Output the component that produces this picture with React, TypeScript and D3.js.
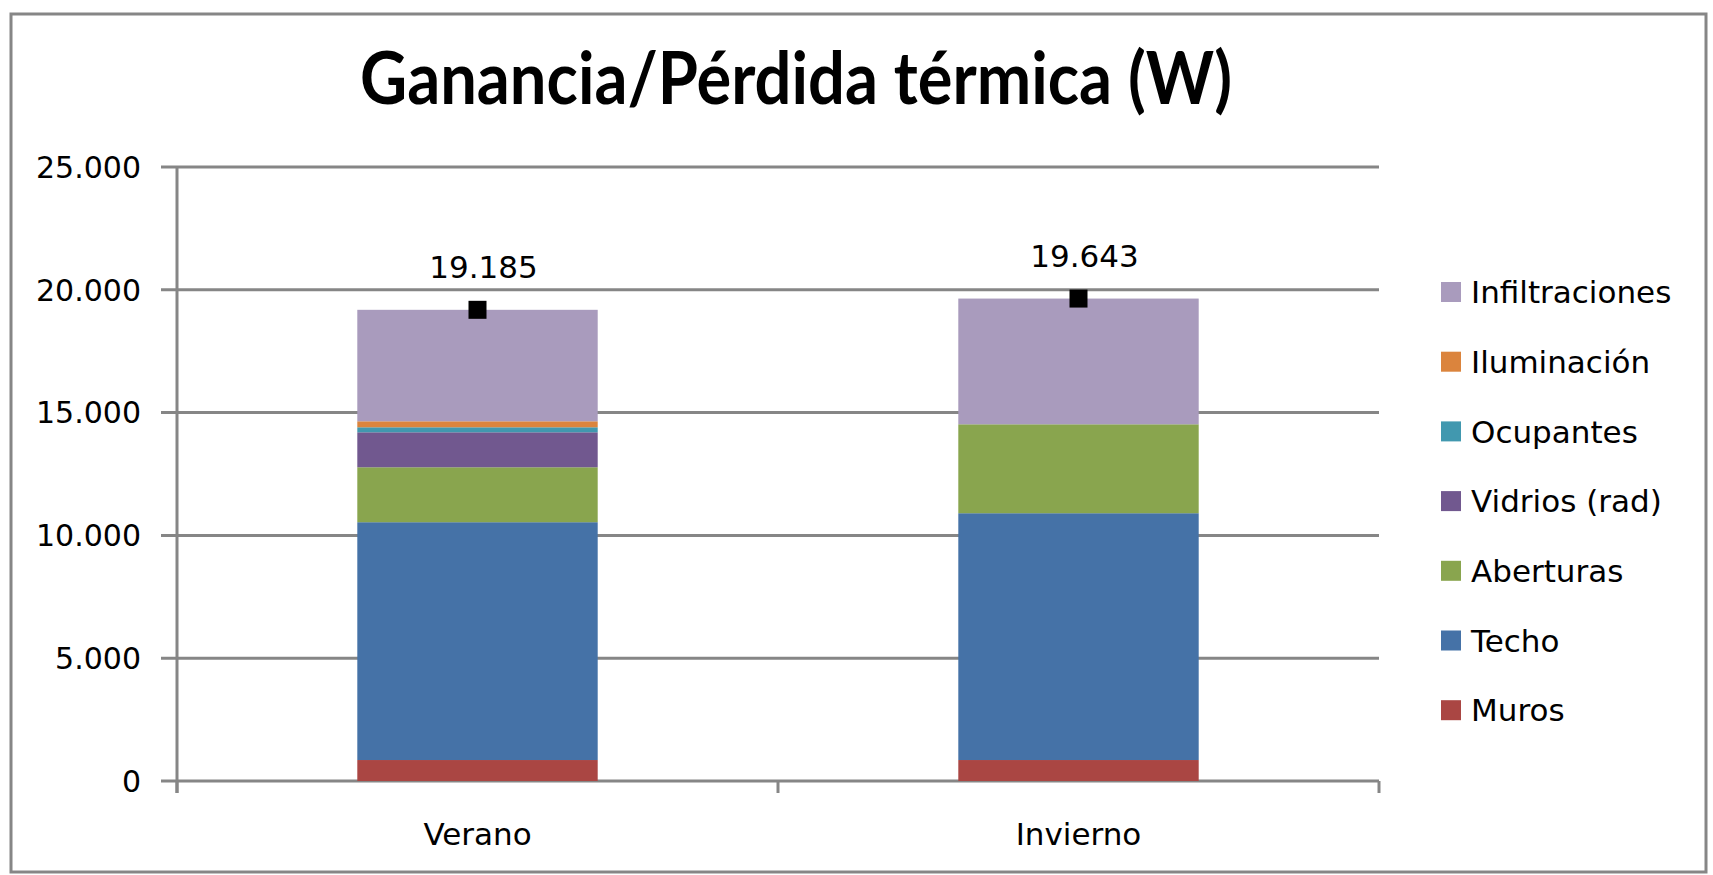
import React from "react";
import * as d3 from "d3";

// Chart data (W)
const categories = ["Verano", "Invierno"];
const muros = [854, 854];
const techo = [9683, 10049];
const aberturas = [2237, 3621];
const vidrios = [1424, 0];
const ocupantes = [204, 0];
const iluminacion = [244, 0];
const infiltraciones = [4539, 5119];

const seriesNames = [
  "Muros",
  "Techo",
  "Aberturas",
  "Vidrios (rad)",
  "Ocupantes",
  "Iluminación",
  "Infiltraciones",
];
const seriesColors = [
  "#AA4643",
  "#4572A7",
  "#89A54E",
  "#71588F",
  "#4198AF",
  "#DB843D",
  "#A99BBD",
];
const yTicks = [0, 5000, 10000, 15000, 20000, 25000];

const locale = d3.formatLocale({
  decimal: ",",
  thousands: ".",
  grouping: [3],
  currency: ["", "€"],
});
const fmt = locale.format(",.0f");

const App: React.FC = () => {
  const width = 1713;
  const height = 875;
  const plot = { left: 177, right: 1379, top: 167, bottom: 781 };

  const allSeries = [muros, techo, aberturas, vidrios, ocupantes, iluminacion, infiltraciones];
  const rows = categories.map((c, i) => {
    const row: Record<string, number | string> = { cat: c };
    seriesNames.forEach((s, k) => (row[s] = allSeries[k][i]));
    return row;
  });
  const stacked = d3.stack<any>().keys(seriesNames)(rows);
  const totals = categories.map((_, i) => d3.sum(allSeries, (s) => s[i]));

  const x = d3
    .scaleBand()
    .domain(categories)
    .range([plot.left, plot.right])
    .paddingInner(0.6)
    .paddingOuter(0.3);
  const y = d3.scaleLinear().domain([0, 25000]).range([plot.bottom, plot.top]);
  const step = (plot.right - plot.left) / categories.length;

  const font = "'DejaVu Sans', Verdana, sans-serif";
  const grid = "#868686";

  return (
    <svg
      width={width}
      height={height}
      style={{ position: "absolute", left: 0, top: 0, background: "#fff" }}
    >
      <rect x={11} y={14} width={1695} height={858} fill="#fff" stroke={grid} strokeWidth={3} />

      <text
        x={796}
        y={104}
        textAnchor="middle"
        fontFamily="Lato, 'DejaVu Sans', sans-serif"
        fontWeight="bold"
        fontSize={72}
        textLength={872}
        lengthAdjust="spacingAndGlyphs"
        fill="#000"
      >
        Ganancia/Pérdida térmica (W)
      </text>

      {/* gridlines + y ticks */}
      {yTicks.map((t) => (
        <g key={t}>
          <line x1={plot.left - 16} x2={plot.right} y1={y(t)} y2={y(t)} stroke={grid} strokeWidth={3} />
          <text
            x={141}
            y={y(t)}
            dy="0.36em"
            textAnchor="end"
            fontFamily={font}
            fontSize={30}
            fill="#000"
          >
            {fmt(t)}
          </text>
        </g>
      ))}

      {/* bars */}
      {stacked.map((layer, k) => (
        <g key={layer.key} fill={seriesColors[k]}>
          {layer.map((d, i) => (
            <rect
              key={i}
              x={x(categories[i])}
              y={y(d[1])}
              width={x.bandwidth()}
              height={Math.max(0, y(d[0]) - y(d[1]))}
            />
          ))}
        </g>
      ))}

      {/* axes */}
      <line x1={plot.left} x2={plot.left} y1={plot.top} y2={plot.bottom + 12} stroke={grid} strokeWidth={3} />
      {d3.range(categories.length + 1).map((i) => (
        <line
          key={i}
          x1={plot.left + i * step}
          x2={plot.left + i * step}
          y1={plot.bottom}
          y2={plot.bottom + 12}
          stroke={grid}
          strokeWidth={3}
        />
      ))}
      {categories.map((c) => (
        <text
          key={c}
          x={(x(c) as number) + x.bandwidth() / 2}
          y={845}
          textAnchor="middle"
          fontFamily={font}
          fontSize={31}
          fill="#000"
        >
          {c}
        </text>
      ))}

      {/* total markers + labels */}
      {categories.map((c, i) => {
        const cx = (x(c) as number) + x.bandwidth() / 2;
        const cy = y(totals[i]);
        return (
          <g key={c}>
            <rect x={cx - 9} y={cy - 9} width={18} height={18} fill="#000" />
            <text
              x={cx + 6}
              y={cy - 32}
              textAnchor="middle"
              fontFamily={font}
              fontSize={31}
              fill="#000"
            >
              {fmt(totals[i])}
            </text>
          </g>
        );
      })}

      {/* legend */}
      {seriesNames
        .slice()
        .reverse()
        .map((s, j) => {
          const k = seriesNames.indexOf(s);
          const cy = 292 + j * 69.7;
          return (
            <g key={s}>
              <rect x={1441} y={cy - 10} width={20} height={20} fill={seriesColors[k]} />
              <text x={1471} y={cy} dy="0.36em" fontFamily={font} fontSize={31} fill="#000">
                {s}
              </text>
            </g>
          );
        })}
    </svg>
  );
};

export default App;
